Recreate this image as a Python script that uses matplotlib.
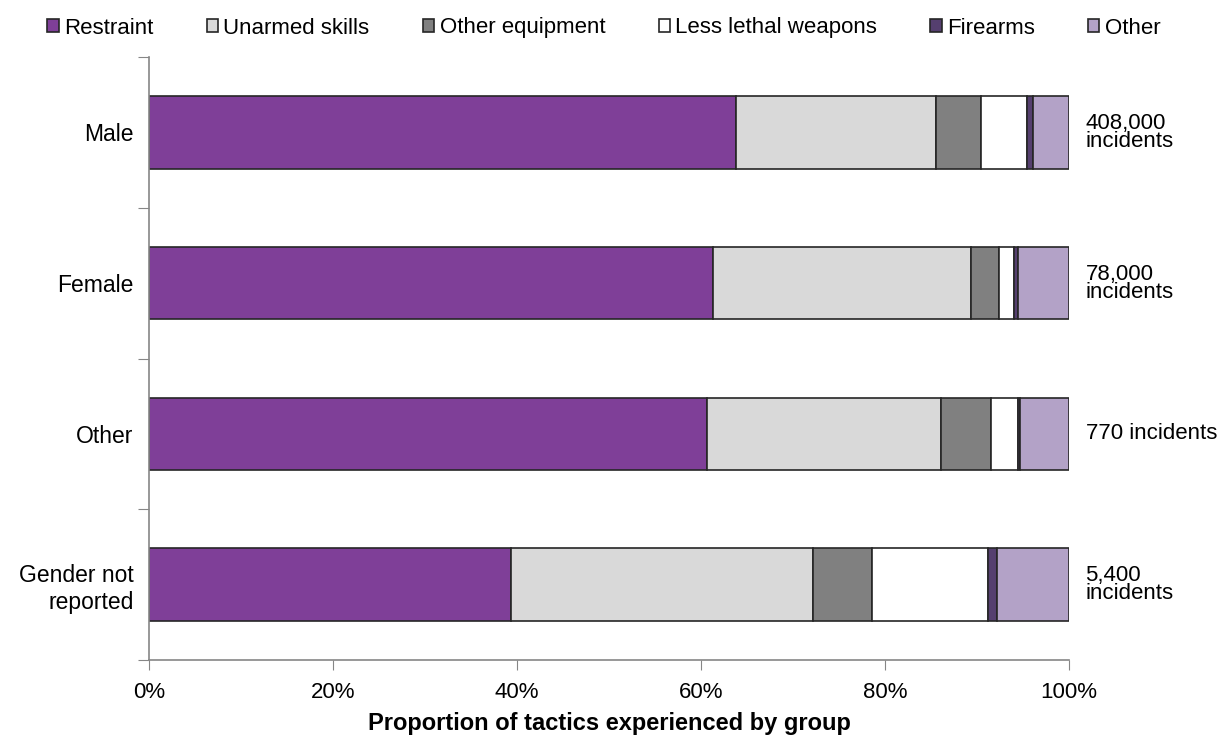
import numpy as np
import matplotlib.pyplot as plt

plt.rcParams['font.family'] = ['Liberation Sans', 'DejaVu Sans']

groups = ['Male', 'Female', 'Other', 'Gender not\nreported']
tactics = ['Restraint', 'Unarmed skills', 'Other equipment',
           'Less lethal weapons', 'Firearms', 'Other']
# share of tactics (%) per group
restraint = [63.8, 61.3, 60.6, 39.4]
unarmed = [21.7, 28.0, 25.5, 32.8]
other_equip = [4.9, 3.1, 5.4, 6.4]
less_lethal = [5.0, 1.6, 3.0, 12.6]
firearms = [0.7, 0.5, 0.2, 1.0]
other = [3.9, 5.5, 5.3, 7.8]
counts = ['408,000\nincidents', '78,000\nincidents', '770 incidents', '5,400\nincidents']

colors = ['#7f3f98', '#d9d9d9', '#808080', '#ffffff', '#553f6f', '#b3a2c7']

fig = plt.figure(figsize=(12.29, 7.37), dpi=100)
ax = fig.add_axes([149/1229, 1-660/737, 920/1229, 603/737])

y = np.arange(len(groups))
left = np.zeros(len(groups))
for name, vals, c in zip(tactics, [restraint, unarmed, other_equip, less_lethal, firearms, other], colors):
    ax.barh(y, vals, left=left, height=0.48, color=c, edgecolor='#262626',
            linewidth=1.2, label=name)
    left += np.array(vals)

for yi, txt in zip(y, counts):
    ax.text(101.8, yi, txt, va='center', ha='left', fontsize=16, linespacing=0.8)

ax.set_xlim(0, 100)
ax.set_ylim(3.5, -0.5)
ax.set_xticks(np.arange(0, 101, 20))
ax.set_xticklabels([f'{v}%' for v in range(0, 101, 20)], fontsize=16)
ax.set_yticks(np.arange(-0.5, 4, 1))
ax.set_yticklabels([])
ax.set_yticks(y, minor=True)
ax.set_yticklabels(groups, minor=True, fontsize=16.5)
ax.tick_params(axis='y', which='minor', length=0, pad=11)
ax.tick_params(axis='y', which='major', length=8, color='#868686', direction='out')
ax.tick_params(axis='x', length=7, color='#868686', direction='out', pad=9)
for s in ['top', 'right']:
    ax.spines[s].set_visible(False)
for s in ['left', 'bottom']:
    ax.spines[s].set_color('#868686')
    ax.spines[s].set_linewidth(1.2)

ax.set_xlabel('Proportion of tactics experienced by group', fontsize=17,
              fontweight='bold', labelpad=6)

fig.legend(loc='center', bbox_to_anchor=(604/1229, 1-28/737), ncol=6,
           frameon=False, fontsize=16, handlelength=0.5, handleheight=0.5,
           handletextpad=0.25, columnspacing=2.4, borderaxespad=0)

fig.savefig('out.png', dpi=100)
